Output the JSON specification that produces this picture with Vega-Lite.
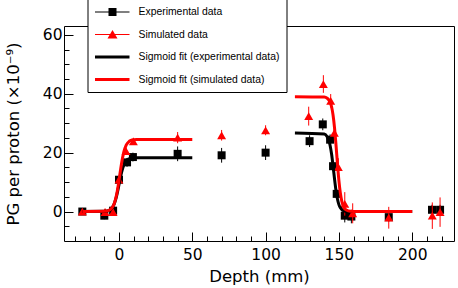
{
  "$schema": "https://vega.github.io/schema/vega-lite/v6.json",
  "width": 390,
  "height": 215,
  "autosize": "none",
  "padding": {"left": 64, "top": 26, "right": 4, "bottom": 47},
  "background": "white",
  "config": {
    "view": {"stroke": "black", "strokeWidth": 1},
    "axis": {
      "domain": false,
      "grid": false,
      "tickColor": "black",
      "labelColor": "black",
      "titleColor": "black",
      "labelFont": "DejaVu Sans",
      "labelFontSize": 15.5,
      "titleFont": "DejaVu Sans",
      "titleFontSize": 16.5,
      "titleFontWeight": "normal"
    },
    "legend": {
      "orient": "none",
      "legendX": 23.5,
      "legendY": -27,
      "fillColor": "white",
      "strokeColor": "black",
      "padding": 7,
      "cornerRadius": 0,
      "symbolSize": 144,
      "symbolStrokeWidth": 0,
      "labelFont": "Liberation Sans",
      "labelFontSize": 10.4,
      "labelColor": "black",
      "labelOffset": 32,
      "rowPadding": 10.5,
      "labelLimit": 0
    }
  },
  "datasets": {
    "points": [
      {"series": "exp", "x": -25, "y": 0.0, "lo": -1.0, "hi": 1.0},
      {"series": "exp", "x": -10, "y": -1.4, "lo": -2.6, "hi": -0.2},
      {"series": "exp", "x": -4, "y": 0.3, "lo": -0.7, "hi": 1.3},
      {"series": "exp", "x": 0, "y": 10.8, "lo": 9.6, "hi": 12.0},
      {"series": "exp", "x": 5.5, "y": 16.7, "lo": 15.2, "hi": 18.2},
      {"series": "exp", "x": 9.5, "y": 18.5, "lo": 17.0, "hi": 20.0},
      {"series": "exp", "x": 40, "y": 19.6, "lo": 17.1, "hi": 22.1},
      {"series": "exp", "x": 70, "y": 19.1, "lo": 16.6, "hi": 21.6},
      {"series": "exp", "x": 100, "y": 20.0, "lo": 17.5, "hi": 22.5},
      {"series": "exp", "x": 130, "y": 23.9, "lo": 21.9, "hi": 25.9},
      {"series": "exp", "x": 139, "y": 29.6, "lo": 27.6, "hi": 31.6},
      {"series": "exp", "x": 144, "y": 24.4, "lo": 22.6, "hi": 26.2},
      {"series": "exp", "x": 146, "y": 15.4, "lo": 13.9, "hi": 16.9},
      {"series": "exp", "x": 148.5, "y": 6.0, "lo": 4.5, "hi": 7.5},
      {"series": "exp", "x": 154, "y": -1.4, "lo": -3.7, "hi": 0.9},
      {"series": "exp", "x": 158.5, "y": -1.7, "lo": -4.0, "hi": 0.6},
      {"series": "exp", "x": 184, "y": -1.9, "lo": -3.4, "hi": -0.4},
      {"series": "exp", "x": 213.5, "y": 0.6, "lo": -1.1, "hi": 2.3},
      {"series": "exp", "x": 219, "y": 0.6, "lo": -1.1, "hi": 2.3},
      {"series": "sim", "x": -25, "y": 0.0, "lo": -1.0, "hi": 1.0},
      {"series": "sim", "x": -9.5, "y": -0.2, "lo": -1.4, "hi": 1.0},
      {"series": "sim", "x": -4, "y": -0.2, "lo": -1.2, "hi": 0.8},
      {"series": "sim", "x": 0, "y": 10.8, "lo": 9.8, "hi": 11.8},
      {"series": "sim", "x": 4.8, "y": 20.5, "lo": 19.3, "hi": 21.7},
      {"series": "sim", "x": 9.8, "y": 23.8, "lo": 22.6, "hi": 25.0},
      {"series": "sim", "x": 40, "y": 25.1, "lo": 23.2, "hi": 27.0},
      {"series": "sim", "x": 70, "y": 25.9, "lo": 24.1, "hi": 27.7},
      {"series": "sim", "x": 100, "y": 27.6, "lo": 25.9, "hi": 29.3},
      {"series": "sim", "x": 129.4, "y": 32.4, "lo": 29.2, "hi": 35.6},
      {"series": "sim", "x": 139.4, "y": 43.3, "lo": 40.3, "hi": 46.3},
      {"series": "sim", "x": 144.4, "y": 37.6, "lo": 35.3, "hi": 39.9},
      {"series": "sim", "x": 146.9, "y": 26.7, "lo": 24.2, "hi": 29.2},
      {"series": "sim", "x": 149.6, "y": 15.1, "lo": 12.1, "hi": 18.1},
      {"series": "sim", "x": 154, "y": 2.6, "lo": -1.4, "hi": 6.6},
      {"series": "sim", "x": 159.4, "y": -0.6, "lo": -4.0, "hi": 2.8},
      {"series": "sim", "x": 184, "y": -2.1, "lo": -5.8, "hi": 1.6},
      {"series": "sim", "x": 213.7, "y": -1.4, "lo": -5.9, "hi": 3.1},
      {"series": "sim", "x": 219, "y": -0.2, "lo": -5.2, "hi": 4.8}
    ],
    "fits": [
      {"series": "exp", "seg": "rise", "x": -25, "y": 0},
      {"series": "exp", "seg": "rise", "x": -10, "y": 0.07},
      {"series": "exp", "seg": "rise", "x": -8, "y": 0.21},
      {"series": "exp", "seg": "rise", "x": -6, "y": 0.63},
      {"series": "exp", "seg": "rise", "x": -4, "y": 1.79},
      {"series": "exp", "seg": "rise", "x": -3, "y": 2.91},
      {"series": "exp", "seg": "rise", "x": -2, "y": 4.54},
      {"series": "exp", "seg": "rise", "x": -1, "y": 6.67},
      {"series": "exp", "seg": "rise", "x": 0, "y": 9.15},
      {"series": "exp", "seg": "rise", "x": 1, "y": 11.63},
      {"series": "exp", "seg": "rise", "x": 2, "y": 13.76},
      {"series": "exp", "seg": "rise", "x": 3, "y": 15.39},
      {"series": "exp", "seg": "rise", "x": 4, "y": 16.51},
      {"series": "exp", "seg": "rise", "x": 6, "y": 17.67},
      {"series": "exp", "seg": "rise", "x": 8, "y": 18.09},
      {"series": "exp", "seg": "rise", "x": 10, "y": 18.23},
      {"series": "exp", "seg": "rise", "x": 15, "y": 18.3},
      {"series": "exp", "seg": "rise", "x": 50, "y": 18.3},
      {"series": "exp", "seg": "fall", "x": 120, "y": 26.7},
      {"series": "exp", "seg": "fall", "x": 140, "y": 26.35},
      {"series": "exp", "seg": "fall", "x": 142, "y": 25.43},
      {"series": "exp", "seg": "fall", "x": 143, "y": 24.35},
      {"series": "exp", "seg": "fall", "x": 144, "y": 22.45},
      {"series": "exp", "seg": "fall", "x": 145, "y": 19.52},
      {"series": "exp", "seg": "fall", "x": 146, "y": 15.55},
      {"series": "exp", "seg": "fall", "x": 147, "y": 11.15},
      {"series": "exp", "seg": "fall", "x": 148, "y": 7.18},
      {"series": "exp", "seg": "fall", "x": 149, "y": 4.25},
      {"series": "exp", "seg": "fall", "x": 150, "y": 2.35},
      {"series": "exp", "seg": "fall", "x": 151, "y": 1.27},
      {"series": "exp", "seg": "fall", "x": 153, "y": 0.35},
      {"series": "exp", "seg": "fall", "x": 156, "y": 0.05},
      {"series": "exp", "seg": "fall", "x": 160, "y": 0},
      {"series": "exp", "seg": "fall", "x": 200, "y": 0},
      {"series": "sim", "seg": "rise", "x": -25, "y": 0},
      {"series": "sim", "seg": "rise", "x": -10, "y": 0.07},
      {"series": "sim", "seg": "rise", "x": -8, "y": 0.22},
      {"series": "sim", "seg": "rise", "x": -6, "y": 0.64},
      {"series": "sim", "seg": "rise", "x": -4, "y": 1.86},
      {"series": "sim", "seg": "rise", "x": -3, "y": 3.08},
      {"series": "sim", "seg": "rise", "x": -2, "y": 4.88},
      {"series": "sim", "seg": "rise", "x": -1, "y": 7.42},
      {"series": "sim", "seg": "rise", "x": 0, "y": 10.56},
      {"series": "sim", "seg": "rise", "x": 1, "y": 13.94},
      {"series": "sim", "seg": "rise", "x": 2, "y": 17.08},
      {"series": "sim", "seg": "rise", "x": 3, "y": 19.61},
      {"series": "sim", "seg": "rise", "x": 4, "y": 21.42},
      {"series": "sim", "seg": "rise", "x": 5, "y": 22.64},
      {"series": "sim", "seg": "rise", "x": 7, "y": 23.86},
      {"series": "sim", "seg": "rise", "x": 9, "y": 24.28},
      {"series": "sim", "seg": "rise", "x": 12, "y": 24.46},
      {"series": "sim", "seg": "rise", "x": 15, "y": 24.49},
      {"series": "sim", "seg": "rise", "x": 50, "y": 24.5},
      {"series": "sim", "seg": "fall", "x": 120, "y": 39},
      {"series": "sim", "seg": "fall", "x": 140, "y": 38.87},
      {"series": "sim", "seg": "fall", "x": 142, "y": 38.49},
      {"series": "sim", "seg": "fall", "x": 144, "y": 37.15},
      {"series": "sim", "seg": "fall", "x": 145, "y": 35.57},
      {"series": "sim", "seg": "fall", "x": 146, "y": 32.8},
      {"series": "sim", "seg": "fall", "x": 147, "y": 28.51},
      {"series": "sim", "seg": "fall", "x": 148, "y": 22.72},
      {"series": "sim", "seg": "fall", "x": 149, "y": 16.28},
      {"series": "sim", "seg": "fall", "x": 150, "y": 10.49},
      {"series": "sim", "seg": "fall", "x": 151, "y": 6.2},
      {"series": "sim", "seg": "fall", "x": 152, "y": 3.43},
      {"series": "sim", "seg": "fall", "x": 153, "y": 1.85},
      {"series": "sim", "seg": "fall", "x": 155, "y": 0.51},
      {"series": "sim", "seg": "fall", "x": 158, "y": 0.07},
      {"series": "sim", "seg": "fall", "x": 162, "y": 0},
      {"series": "sim", "seg": "fall", "x": 200, "y": 0}
    ],
    "legend": [
      {"series": "Experimental data"},
      {"series": "Simulated data"},
      {"series": "Sigmoid fit (experimental data)"},
      {"series": "Sigmoid fit (simulated data)"}
    ]
  },
  "encoding": {
    "x": {
      "field": "x",
      "type": "quantitative",
      "scale": {"domain": [-37.5, 228.5], "nice": false, "zero": false},
      "axis": {
        "title": "Depth (mm)",
        "values": [-30, -20, -10, 0, 10, 20, 30, 40, 50, 60, 70, 80, 90, 100, 110, 120, 130, 140, 150, 160, 170, 180, 190, 200, 210, 220],
        "labelExpr": "datum.value % 50 === 0 ? datum.label : ''",
        "tickSize": {"condition": {"test": "datum.value % 50 === 0", "value": -9}, "value": -5},
        "labelPadding": 15,
        "titlePadding": 2,
        "labelFlush": false,
        "labelOverlap": false
      }
    },
    "y": {
      "field": "y",
      "type": "quantitative",
      "scale": {"domain": [-10, 63], "nice": false, "zero": false},
      "axis": {
        "title": "PG per proton (×10⁻⁹)",
        "values": [-5, 0, 5, 10, 15, 20, 25, 30, 35, 40, 45, 50, 55, 60],
        "labelExpr": "datum.value % 20 === 0 ? datum.label : ''",
        "tickSize": {"condition": {"test": "datum.value % 20 === 0", "value": -9}, "value": -5},
        "labelPadding": 11,
        "titlePadding": 21,
        "labelFlush": false,
        "labelOverlap": false
      }
    }
  },
  "layer": [
    {
      "data": {"name": "points"},
      "transform": [{"filter": "datum.series === 'exp'"}],
      "mark": {"type": "rule", "color": "black", "strokeWidth": 1},
      "encoding": {"y": {"field": "lo", "type": "quantitative"}, "y2": {"field": "hi"}}
    },
    {
      "data": {"name": "points"},
      "transform": [{"filter": "datum.series === 'exp'"}],
      "mark": {"type": "point", "shape": "square", "filled": true, "color": "black", "size": 64, "opacity": 1, "strokeWidth": 0}
    },
    {
      "data": {"name": "points"},
      "transform": [{"filter": "datum.series === 'sim'"}],
      "mark": {"type": "rule", "color": "red", "strokeWidth": 1},
      "encoding": {"y": {"field": "lo", "type": "quantitative"}, "y2": {"field": "hi"}}
    },
    {
      "data": {"name": "points"},
      "transform": [{"filter": "datum.series === 'sim'"}],
      "mark": {"type": "point", "shape": "triangle-up", "filled": true, "color": "red", "size": 80, "opacity": 1, "strokeWidth": 0}
    },
    {
      "data": {"name": "fits"},
      "transform": [{"filter": "datum.series === 'exp'"}],
      "mark": {"type": "line", "color": "black", "strokeWidth": 3, "interpolate": "monotone"},
      "encoding": {"detail": {"field": "seg"}}
    },
    {
      "data": {"name": "fits"},
      "transform": [{"filter": "datum.series === 'sim'"}],
      "mark": {"type": "line", "color": "red", "strokeWidth": 3, "interpolate": "monotone"},
      "encoding": {"detail": {"field": "seg"}}
    },
    {
      "data": {"name": "legend"},
      "transform": [{"filter": "datum.series === 'none'"}],
      "mark": {"type": "point", "filled": true, "opacity": 1, "strokeWidth": 0},
      "encoding": {
        "x": {"value": 0},
        "y": {"value": 0},
        "color": {
          "field": "series",
          "type": "nominal",
          "scale": {
            "domain": ["Experimental data", "Simulated data", "Sigmoid fit (experimental data)", "Sigmoid fit (simulated data)"],
            "range": ["black", "red", "black", "red"]
          },
          "legend": {"title": null}
        },
        "shape": {
          "field": "series",
          "type": "nominal",
          "scale": {
            "domain": ["Experimental data", "Simulated data", "Sigmoid fit (experimental data)", "Sigmoid fit (simulated data)"],
            "range": [
              "M-0.917,-0.083H4.833V0.083H-0.917ZM1.333,-0.667H2.667V0.667H1.333Z",
              "M-0.917,-0.083H4.833V0.083H-0.917ZM2,-0.75L2.833,0.667H1.167Z",
              "M-0.917,-0.25H4.833V0.25H-0.917Z",
              "M-0.917,-0.25H4.833V0.25H-0.917Z"
            ]
          },
          "legend": {"title": null}
        }
      }
    }
  ]
}
